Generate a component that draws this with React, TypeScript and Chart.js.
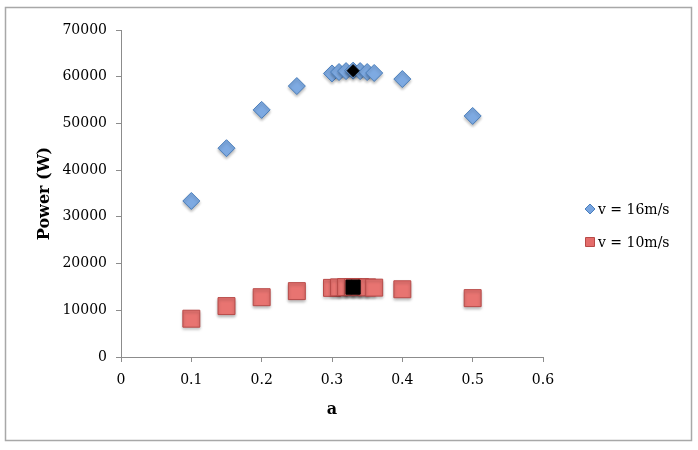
import React, { useEffect, useRef } from "react";
import { Chart, registerables } from "chart.js";

Chart.register(...registerables);

const aValues = [0.1, 0.15, 0.2, 0.25, 0.3, 0.31, 0.32, 0.33, 0.34, 0.35, 0.36, 0.4, 0.5];
const power16 = [33400, 44700, 52900, 58000, 60700, 61000, 61200, 61300, 61200, 61000, 60800, 59500, 51600];
const power10 = [8200, 10900, 12800, 14100, 14800, 14900, 14950, 14960, 14950, 14900, 14850, 14500, 12600];
const optimumA = [0.33];
const optimum16 = [61300];
const optimum10 = [14960];
const legendLabels = ["v = 16m/s", "v = 10m/s"];
const yTicks = [0, 10000, 20000, 30000, 40000, 50000, 60000, 70000];

const FONT = "'DejaVu Serif', 'Liberation Serif', serif";

const markerShadow = {
  id: "markerShadow",
  beforeDatasetsDraw(chart: any) {
    const ctx = chart.ctx;
    ctx.save();
    ctx.shadowColor = "rgba(0,0,0,0.28)";
    ctx.shadowBlur = 3;
    ctx.shadowOffsetX = 0;
    ctx.shadowOffsetY = 2;
  },
  afterDatasetsDraw(chart: any) {
    chart.ctx.restore();
  },
};

const frameAndLegend = {
  id: "frameAndLegend",
  afterDraw(chart: any) {
    const ctx = chart.ctx;
    ctx.save();
    ctx.strokeStyle = "#a8a8a8";
    ctx.lineWidth = 1.5;
    ctx.strokeRect(5.5, 7.5, 686, 433);
    const items = [
      { y: 209, shape: "diamond", fill: "#78a5e0", stroke: "#4a7ebb", text: legendLabels[0] },
      { y: 242, shape: "square", fill: "#e46c6a", stroke: "#b84a48", text: legendLabels[1] },
    ];
    ctx.font = "14px " + FONT;
    ctx.textBaseline = "middle";
    ctx.textAlign = "left";
    for (const it of items) {
      ctx.fillStyle = it.fill;
      ctx.strokeStyle = it.stroke;
      ctx.lineWidth = 1;
      ctx.beginPath();
      if (it.shape === "diamond") {
        ctx.moveTo(590, it.y - 5);
        ctx.lineTo(595, it.y);
        ctx.lineTo(590, it.y + 5);
        ctx.lineTo(585, it.y);
        ctx.closePath();
      } else {
        ctx.rect(585.5, it.y - 4.5, 9, 9);
      }
      ctx.fill();
      ctx.stroke();
      ctx.fillStyle = "#000";
      ctx.fillText(it.text, 598, it.y + 1);
    }
    ctx.restore();
  },
};

export default function App() {
  const ref = useRef<HTMLCanvasElement>(null);
  useEffect(() => {
    if (!ref.current) return;
    const toPts = (xs: number[], ys: number[]) => xs.map((x, i) => ({ x, y: ys[i] }));
    const chart = new Chart(ref.current, {
      type: "scatter",
      data: {
        datasets: [
          {
            label: "opt16",
            data: toPts(optimumA, optimum16),
            pointStyle: "rectRot",
            pointRadius: 6,
            backgroundColor: "#000",
            borderColor: "#000",
            borderWidth: 1,
            order: 0,
          },
          {
            label: "opt10",
            data: toPts(optimumA, optimum10),
            pointStyle: "rect",
            pointRadius: 10,
            backgroundColor: "#000",
            borderColor: "#000",
            borderWidth: 1,
            order: 0,
          },
          {
            label: legendLabels[0],
            data: toPts(aValues, power16),
            pointStyle: "rectRot",
            pointRadius: 8.5,
            backgroundColor: "#7eaae2",
            borderColor: "#4a7ebb",
            borderWidth: 1,
            order: 1,
          },
          {
            label: legendLabels[1],
            data: toPts(aValues, power10),
            pointStyle: "rect",
            pointRadius: 12,
            backgroundColor: "#e87471",
            borderColor: "#b84a48",
            borderWidth: 1,
            order: 1,
          },
        ],
      },
      options: {
        responsive: false,
        animation: false,
        layout: { padding: { left: 0, top: 30, right: 155, bottom: 0 } },
        plugins: { legend: { display: false }, tooltip: { enabled: false } },
        scales: {
          x: {
            type: "linear",
            min: 0,
            max: 0.6,
            afterFit: (s: any) => { s.height = 93; },
            ticks: {
              stepSize: 0.1,
              padding: 10,
              color: "#000",
              font: { family: FONT, size: 14 },
              callback: (v: any) => (Number(v) === 0 ? "0" : Number(v).toFixed(1)),
            },
            grid: { display: true, drawOnChartArea: false, drawTicks: true, tickLength: 5, color: "#8c8c8c" },
            border: { color: "#8c8c8c", width: 1 },
            title: {
              display: true,
              text: "a",
              color: "#000",
              font: { family: FONT, size: 16, weight: "bold" },
              padding: { top: 0, bottom: 31 },
            },
          },
          y: {
            type: "linear",
            min: yTicks[0],
            max: yTicks[yTicks.length - 1],
            afterFit: (s: any) => { s.width = 121; },
            afterBuildTicks: (s: any) => { s.ticks = yTicks.map((v) => ({ value: v })); },
            ticks: {
              padding: 9,
              color: "#000",
              font: { family: FONT, size: 14 },
              callback: (v: any) => String(v),
            },
            grid: { display: true, drawOnChartArea: false, drawTicks: true, tickLength: 5, color: "#8c8c8c" },
            border: { color: "#8c8c8c", width: 1 },
            title: {
              display: true,
              text: "Power (W)",
              color: "#000",
              font: { family: FONT, size: 16, weight: "bold" },
              padding: { top: 35, bottom: 0 },
            },
          },
        },
      },
      plugins: [markerShadow, frameAndLegend],
    });
    return () => chart.destroy();
  }, []);
  return (
    <canvas
      ref={ref}
      width={698}
      height={450}
      style={{ position: "absolute", left: 0, top: 0, width: 698, height: 450, display: "block" }}
    />
  );
}
